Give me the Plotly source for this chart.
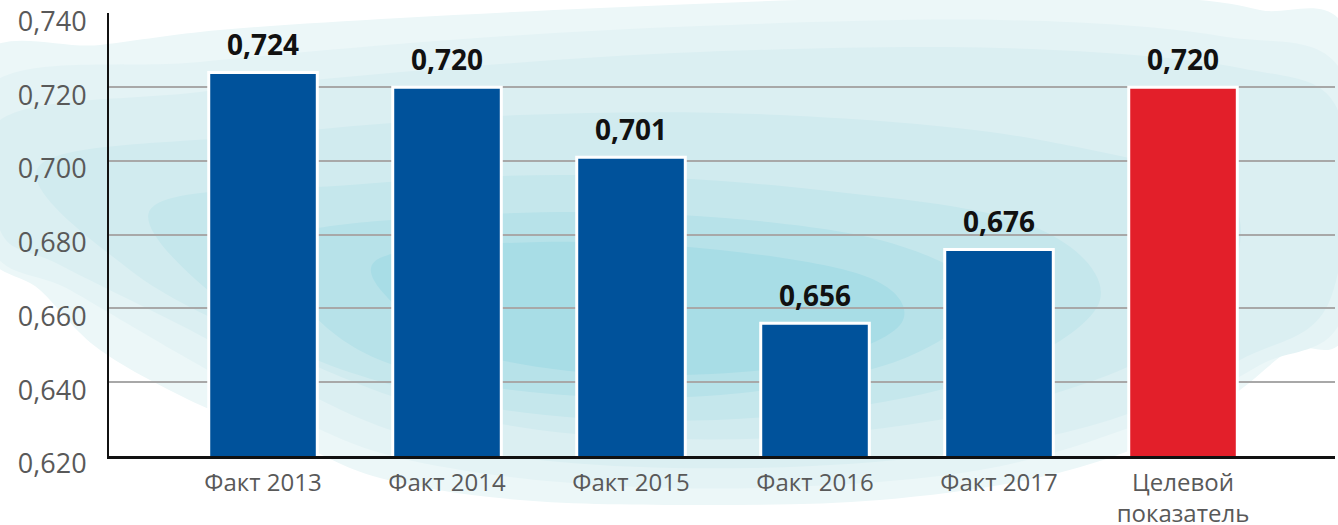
import plotly.graph_objects as go

categories = ["Факт 2013", "Факт 2014", "Факт 2015", "Факт 2016", "Факт 2017", "Целевой<br>показатель"]
values = [0.724, 0.720, 0.701, 0.656, 0.676, 0.720]
bar_colors = ["#00529B", "#00529B", "#00529B", "#00529B", "#00529B", "#E31F2A"]
y_ticks = [0.620, 0.640, 0.660, 0.680, 0.700, 0.720, 0.740]
y_tick_labels = ["0,620", "0,640", "0,660", "0,680", "0,700", "0,720", "0,740"]

W, H = 1338, 525
L, R, T, B = 109, 3, 13, 69
PW, PH = W - L - R, H - T - B


def px2paper(x, y):
    return (x - L) / PW, (H - B - y) / PH


def smooth_path(pts):
    n = len(pts)
    p = [px2paper(*q) for q in pts]
    d = f"M {p[0][0]:.4f},{p[0][1]:.4f}"
    for i in range(n):
        p0 = p[(i - 1) % n]
        p1 = p[i]
        p2 = p[(i + 1) % n]
        p3 = p[(i + 2) % n]
        c1 = (p1[0] + (p2[0] - p0[0]) / 6, p1[1] + (p2[1] - p0[1]) / 6)
        c2 = (p2[0] - (p3[0] - p1[0]) / 6, p2[1] - (p3[1] - p1[1]) / 6)
        d += f" C {c1[0]:.4f},{c1[1]:.4f} {c2[0]:.4f},{c2[1]:.4f} {p2[0]:.4f},{p2[1]:.4f}"
    return d + " Z"


blobs = [
    ("#ecf7f8", [(-20, 58), (100, 45), (220, 30), (400, 18), (600, 8), (800, 0), (1000, -5),
                 (1170, -2), (1260, 10), (1350, 40), (1350, 320), (1290, 350), (1240, 390),
                 (1180, 430), (1050, 475), (880, 500), (700, 505), (520, 500), (380, 478),
                 (290, 440), (200, 405), (100, 350), (40, 290), (-20, 240)]),
    ("#e4f3f5", [(-10, 85), (200, 62), (450, 40), (700, 26), (1000, 20), (1220, 36),
                 (1345, 78), (1345, 310), (1260, 365), (1150, 420), (980, 470), (760, 488),
                 (560, 482), (400, 458), (300, 420), (190, 360), (70, 290), (-10, 245)]),
    ("#dbeff2", [(0, 120), (200, 92), (450, 68), (700, 52), (1000, 48), (1240, 68),
                 (1340, 115), (1330, 300), (1240, 360), (1110, 420), (940, 455), (750, 468),
                 (560, 462), (410, 436), (300, 390), (190, 330), (60, 265), (0, 230)]),
    ("#d1ebef", [(40, 165), (260, 135), (520, 115), (780, 115), (1040, 140), (1230, 200),
                 (1200, 320), (1050, 395), (820, 435), (590, 435), (420, 405), (270, 345),
                 (130, 270)]),
    ("#c5e7ec", [(150, 210), (350, 185), (580, 175), (820, 190), (1030, 225), (1100, 300),
                 (990, 375), (790, 415), (580, 418), (410, 390), (260, 330)]),
    ("#b7e2e9", [(280, 238), (470, 215), (680, 215), (880, 240), (980, 295), (900, 360),
                 (720, 395), (530, 392), (380, 360), (300, 300)]),
    ("#a8dde6", [(380, 258), (540, 242), (720, 250), (870, 278), (900, 325), (800, 365),
                 (630, 375), (480, 355), (400, 310)]),
]

shapes = [
    dict(type="path", xref="paper", yref="paper", path=smooth_path(pts),
         fillcolor=col, line=dict(width=0), layer="below")
    for col, pts in blobs
]

fig = go.Figure()
fig.add_trace(go.Bar(
    x=categories, y=values, width=0.59,
    marker=dict(color=bar_colors, line=dict(color="white", width=3)),
    hoverinfo="skip",
))

annotations = [
    dict(x=c, y=v, text=f"<b>{v:.3f}</b>".replace(".", ","), showarrow=False,
         yanchor="middle", yshift=28, font=dict(family="Open Sans", size=28, color="#111111"))
    for c, v in zip(categories, values)
]

fig.update_layout(
    width=W, height=H,
    margin=dict(l=L, r=R, t=T, b=B, pad=0, autoexpand=False),
    paper_bgcolor="white", plot_bgcolor="rgba(0,0,0,0)",
    showlegend=False,
    shapes=shapes,
    annotations=annotations,
    font=dict(family="Open Sans", color="#595959"),
)
fig.update_xaxes(
    range=[-0.837, 5.826], showline=True, linecolor="#111111", linewidth=3,
    showgrid=False, ticks="", tickfont=dict(size=24, color="#595959"),
    ticklabelstandoff=3, fixedrange=True, automargin=False,
    ticklabeloverflow="allow",
)
fig.update_yaxes(
    range=[0.620, 0.7401], tickvals=y_ticks, ticktext=y_tick_labels,
    showline=True, linecolor="#111111", linewidth=2,
    showgrid=True, gridcolor="#a8a8a8", gridwidth=1.5, zeroline=False,
    ticks="", tickfont=dict(size=27, color="#595959"), ticklabelstandoff=15,
    ticklabelshift=8, ticklabeloverflow="allow", fixedrange=True, automargin=False,
)

fig.write_html(
    "out.html",
    config={"displayModeBar": False},
    post_script="document.body.style.margin='0';document.body.style.padding='0';"
                "document.body.style.overflow='hidden';",
)
